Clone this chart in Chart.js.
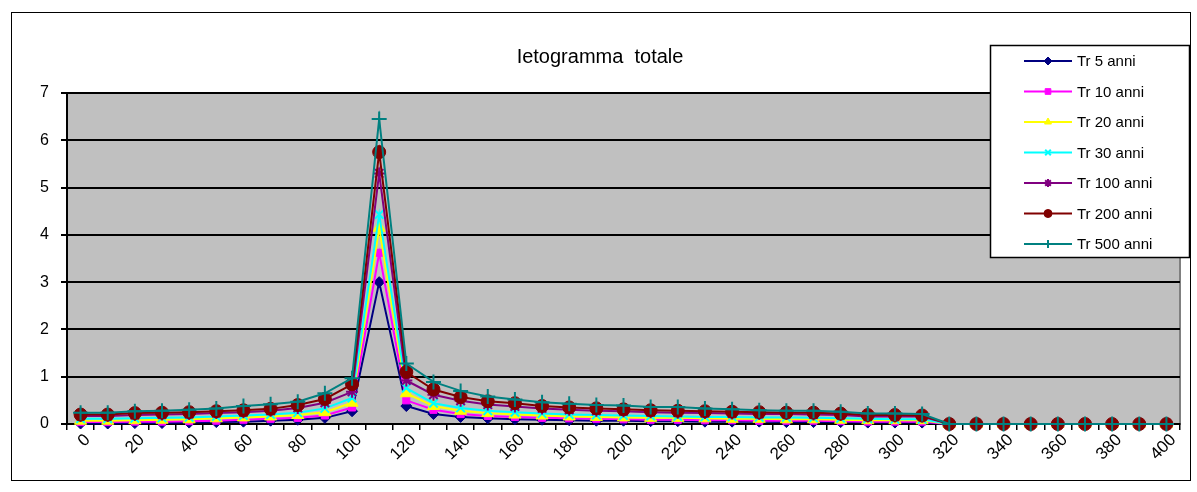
<!DOCTYPE html>
<html><head><meta charset="utf-8">
<script src="https://cdn.jsdelivr.net/npm/chart.js@4/dist/chart.umd.min.js"></script>
<style>html,body{margin:0;padding:0;background:#fff;}</style>
</head><body>
<canvas id="c" width="1197" height="492"></canvas>
<script>
const titleText = 'Ietogramma  totale';
const categories = [0,10,20,30,40,50,60,70,80,90,100,110,120,130,140,150,160,170,180,190,200,210,220,230,240,250,260,270,280,290,300,310,320,330,340,350,360,370,380,390,400];
const seriesNames = ['Tr 5 anni','Tr 10 anni','Tr 20 anni','Tr 30 anni','Tr 100 anni','Tr 200 anni','Tr 500 anni'];
const tr5   = [0.01,0.01,0.02,0.02,0.03,0.04,0.05,0.07,0.09,0.13,0.27,3.00,0.38,0.21,0.15,0.12,0.10,0.09,0.08,0.07,0.07,0.06,0.06,0.05,0.05,0.05,0.04,0.04,0.04,0.03,0.03,0.03,0,0,0,0,0,0,0,0,0];
const tr10  = [0.04,0.04,0.05,0.05,0.06,0.07,0.09,0.11,0.13,0.18,0.35,3.62,0.50,0.30,0.21,0.17,0.15,0.13,0.12,0.11,0.10,0.09,0.09,0.08,0.08,0.07,0.07,0.07,0.06,0.05,0.05,0.05,0,0,0,0,0,0,0,0,0];
const tr20  = [0.07,0.07,0.08,0.09,0.10,0.12,0.14,0.16,0.19,0.25,0.45,4.15,0.65,0.38,0.28,0.23,0.20,0.18,0.16,0.15,0.14,0.13,0.13,0.12,0.11,0.11,0.10,0.10,0.09,0.08,0.08,0.08,0,0,0,0,0,0,0,0,0];
const tr30  = [0.11,0.11,0.12,0.13,0.14,0.16,0.18,0.20,0.24,0.33,0.55,4.43,0.76,0.44,0.34,0.28,0.25,0.22,0.20,0.19,0.18,0.17,0.16,0.15,0.15,0.14,0.14,0.13,0.12,0.11,0.10,0.10,0,0,0,0,0,0,0,0,0];
const tr100 = [0.17,0.17,0.19,0.20,0.21,0.23,0.25,0.28,0.34,0.45,0.68,5.30,0.92,0.62,0.49,0.41,0.37,0.33,0.30,0.28,0.27,0.25,0.24,0.23,0.22,0.21,0.21,0.20,0.19,0.16,0.16,0.16,0,0,0,0,0,0,0,0,0];
const tr200 = [0.20,0.20,0.23,0.24,0.25,0.27,0.29,0.32,0.40,0.53,0.84,5.75,1.10,0.73,0.57,0.48,0.44,0.38,0.35,0.33,0.31,0.29,0.28,0.27,0.26,0.25,0.24,0.24,0.22,0.19,0.19,0.18,0,0,0,0,0,0,0,0,0];
const tr500 = [0.24,0.24,0.27,0.28,0.30,0.33,0.38,0.42,0.47,0.65,0.97,6.45,1.28,0.89,0.70,0.58,0.52,0.46,0.43,0.40,0.39,0.36,0.36,0.33,0.31,0.29,0.28,0.28,0.26,0.22,0.22,0.21,0,0,0,0,0,0,0,0,0];
const yTicks = [0,1,2,3,4,5,6,7];

const allValues = [tr5,tr10,tr20,tr30,tr100,tr200,tr500];
const colors = ['#000080','#FF00FF','#FFFF00','#00FFFF','#800080','#800000','#008080'];
const styles = ['rectRot','rect','triangle','crossRot','star','circle','cross'];
const radii  = [5.5,5,7,6,6,6.5,7.5];

const datasets = allValues.map((vals,i)=>({
  label: seriesNames[i],
  data: vals,
  borderColor: colors[i],
  backgroundColor: colors[i],
  pointBackgroundColor: colors[i],
  pointBorderColor: colors[i],
  pointStyle: styles[i],
  pointRadius: radii[i],
  pointBorderWidth: (styles[i]==='cross'||styles[i]==='crossRot'||styles[i]==='star') ? 2 : 1,
  borderWidth: 2,
  tension: 0,
  clip: false,
  order: 6 - i
}));

const frame = {
  id: 'frame',
  beforeDraw(chart){
    const {ctx, chartArea:a} = chart;
    ctx.save();
    ctx.fillStyle = '#fff';
    ctx.fillRect(0,0,chart.width,chart.height);
    ctx.fillStyle = '#C0C0C0';
    ctx.fillRect(a.left, a.top, a.right-a.left, a.bottom-a.top);
    ctx.strokeStyle = '#808080';
    ctx.lineWidth = 2;
    ctx.strokeRect(a.left, a.top, a.right-a.left, a.bottom-a.top);
    ctx.restore();
  },
  afterDraw(chart){
    const ctx = chart.ctx;
    ctx.save();
    ctx.strokeStyle = '#000';
    ctx.lineWidth = 1;
    ctx.strokeRect(11.5, 12.5, 1179, 468);
    const lx = 990, ly = 45, lw = 200, lh = 213;
    ctx.fillStyle = '#fff';
    ctx.fillRect(lx, ly, lw, lh);
    ctx.strokeStyle = '#000';
    ctx.lineWidth = 1.5;
    ctx.strokeRect(lx+0.5, ly+0.5, lw-1, lh-1);
    const ds = chart.data.datasets;
    ds.forEach((d,i)=>{
      const y = 61 + i*30.5;
      ctx.strokeStyle = d.borderColor;
      ctx.lineWidth = 2;
      ctx.beginPath(); ctx.moveTo(1024,y); ctx.lineTo(1072,y); ctx.stroke();
      ctx.fillStyle = d.pointBackgroundColor;
      ctx.strokeStyle = d.pointBorderColor;
      ctx.lineWidth = d.pointBorderWidth;
      if (Chart.helpers && Chart.helpers.drawPoint) {
        Chart.helpers.drawPoint(ctx, {pointStyle: d.pointStyle, radius: 4, borderWidth: d.pointBorderWidth, rotation: 0}, 1048, y);
      }
      ctx.fillStyle = '#000';
      ctx.font = '15px "Liberation Sans", Arial, sans-serif';
      ctx.textBaseline = 'middle';
      ctx.textAlign = 'left';
      ctx.fillText(d.label, 1077, y+1);
    });
    ctx.restore();
  }
};

new Chart(document.getElementById('c'), {
  type: 'line',
  data: { labels: categories, datasets },
  plugins: [frame],
  options: {
    responsive: false,
    animation: false,
    devicePixelRatio: 1,
    layout: { padding: { left: 20, right: 17, top: 28, bottom: 12 } },
    plugins: {
      legend: { display: false },
      tooltip: { enabled: false },
      title: {
        display: true,
        text: titleText,
        color: '#000',
        font: { family: '"Liberation Sans", Arial, sans-serif', size: 20, weight: 'normal' },
        padding: { top: 17, bottom: 24 }
      }
    },
    scales: {
      x: {
        type: 'category',
        offset: true,
        grid: { display: true, drawOnChartArea: false, offset: true, color: '#000', lineWidth: 1.5, tickLength: 6 },
        border: { display: true, color: '#000', width: 2 },
        ticks: {
          autoSkip: false,
          maxRotation: 45, minRotation: 45,
          color: '#000',
          padding: 0,
          labelOffset: 7,
          font: { family: '"Liberation Sans", Arial, sans-serif', size: 17 },
          callback: function(v, i){ return (i % 2 === 0) ? String(categories[i]) : ''; }
        },
        afterFit(scale){ scale.height = 56; }
      },
      y: {
        min: 0, max: 7,
        afterBuildTicks(scale){ scale.ticks = yTicks.map(v=>({value:v})); },
        grid: { color: '#000', lineWidth: 2, tickLength: 6, drawTicks: true },
        border: { display: true, color: '#000', width: 2 },
        ticks: {
          color: '#000',
          padding: 12,
          font: { family: '"Liberation Sans", Arial, sans-serif', size: 16 }
        },
        afterFit(scale){ scale.width = 47; }
      }
    }
  }
});
</script>
</body></html>
